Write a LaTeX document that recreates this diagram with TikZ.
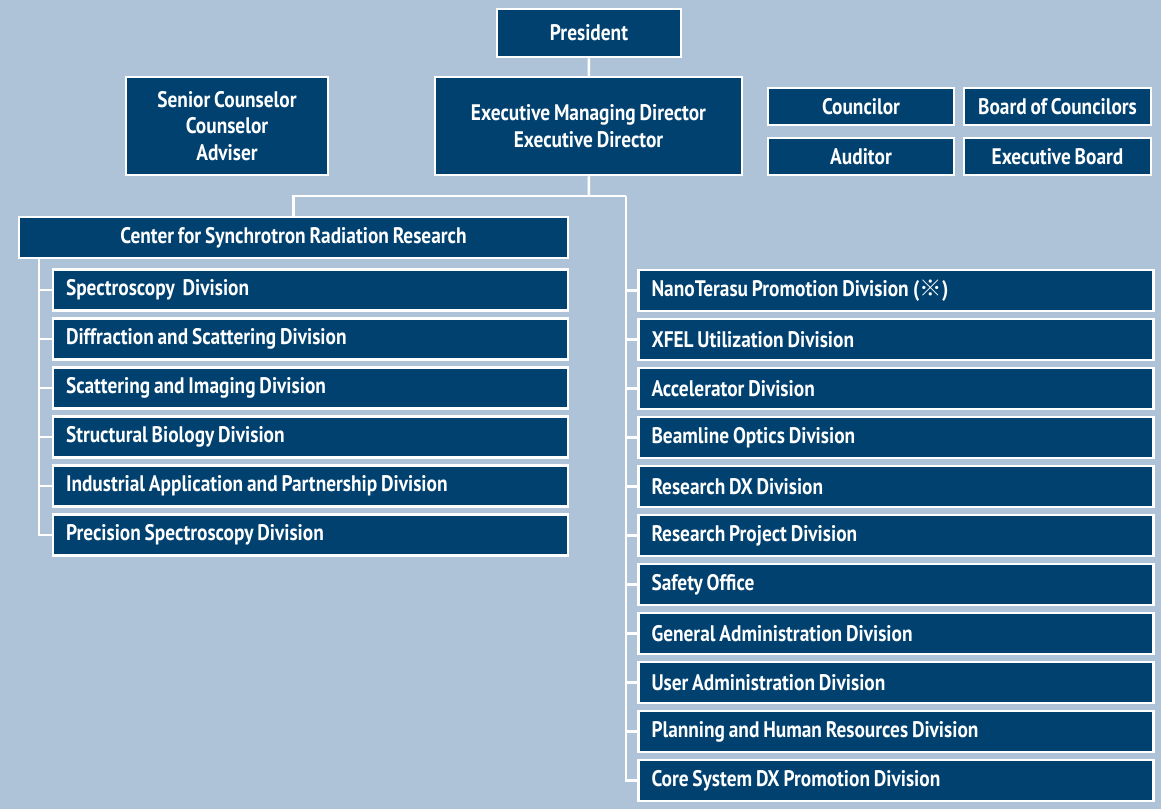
\documentclass[tikz,border=0pt]{standalone}
\usepackage{fontspec}
\setmainfont{PT Sans}[FakeStretch=0.86]
\newfontfamily\cjk{Noto Sans CJK JP}
\usetikzlibrary{positioning}
\definecolor{navybox}{RGB}{0,65,112}
\definecolor{paleblue}{RGB}{175,195,216}
\newcommand\boxfont{\bfseries\fontsize{22.5}{26.5}\selectfont
  \spaceskip=0.17em plus 0.05em\relax}

\tikzset{
  unit/.style={draw=white, line width=2.5pt, fill=navybox, text=white,
    font=\boxfont, inner sep=0pt, align=center},
  division/.style={unit, minimum height=41pt, text width=489pt,
    inner xsep=13pt, align=flush left},
  conn/.style={white, line width=2.5pt},
}

\begin{document}
\begin{tikzpicture}[x=1pt,y=-1pt]

% the background of the chart
\fill[paleblue] (0,0) rectangle (1161,809);
\useasboundingbox (0,0) rectangle (1161,809);

%% top of the chart
\node[unit, minimum width=184pt, minimum height=48pt] (pres) at (589,33) {President};
\node[unit, minimum width=202pt, minimum height=98pt] (advisers) at (227,126)
  {Senior Counselor\\Counselor\\Adviser};
\node[unit, minimum width=307pt, minimum height=98pt] (emd) at (588.5,126)
  {Executive Managing Director\\Executive Director};

% the four boxes on the right
\node[unit, minimum width=186pt, minimum height=37pt] (councilor) at (861,106.5) {Councilor};
\node[unit, minimum width=187pt, minimum height=37pt] (board) at (1057.5,106.5) {Board of Councilors};
\node[unit, minimum width=186pt, minimum height=37pt] (auditor) at (861,156.5) {Auditor};
\node[unit, minimum width=187pt, minimum height=37pt] (exboard) at (1057.5,156.5) {Executive Board};

% the research center and its divisions
\node[unit, minimum width=549pt, minimum height=41pt] (csr) at (293.5,237.5)
  {Center for Synchrotron Radiation Research};

\foreach \txt [count=\i] in {Spectroscopy\hspace{0.35em}Division,
  Diffraction and Scattering Division,
  Scattering and Imaging Division,
  Structural Biology Division,
  Industrial Application and Partnership Division,
  Precision Spectroscopy Division}
  \node[division] (ld\i) at (310.5,{241+49*\i}) {\txt};

% the divisions and offices on the right
\foreach \txt [count=\i] in {NanoTerasu Promotion Division\hspace{0.2em}({\cjk ※}),
  XFEL Utilization Division,
  Accelerator Division,
  Beamline Optics Division,
  Research DX Division,
  Research Project Division,
  Safety Office,
  General Administration Division,
  User Administration Division,
  Planning and Human Resources Division,
  Core System DX Promotion Division}
  \node[division] (rd\i) at (896,{241.5+49*\i}) {\txt};

%% we draw the connecting lines
\coordinate (split) at (589,196);
\coordinate (rbus) at (626,196);

\draw[conn] (pres) -- (emd);
\draw[conn] (emd) -- (split);
\draw[conn] (split) -| (csr);
\draw[conn] (split) -- (rbus);

\foreach \i in {1,...,11}
  \draw[conn] (rbus) |- (rd\i);
\foreach \i in {1,...,6}
  \draw[conn] ([xshift=21pt]csr.south west) |- (ld\i);

\end{tikzpicture}
\end{document}
